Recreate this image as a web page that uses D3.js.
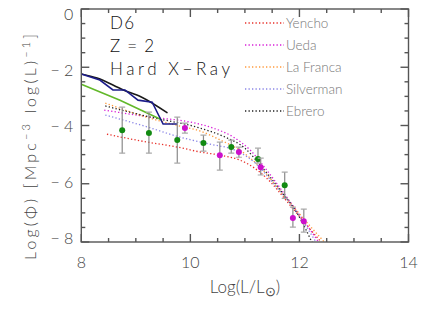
<!DOCTYPE html>
<html lang="en">
<head>
<meta charset="utf-8">
<title>D6 Z=2 Hard X-Ray</title>
<script src="https://cdn.jsdelivr.net/npm/d3@7/dist/d3.min.js"></script>
<style>
  body { margin: 0; background: #fff; }
  svg { display: block; font-family: Lato, "DejaVu Sans", sans-serif; }
</style>
</head>
<body>
<div id="chart"></div>
<script>
// ---------- data ----------
var xTicks = [8, 10, 12, 14];
var yTicks = [-8, -6, -4, -2, 0];

// solid lines
var blackSolid = [[8.0, -2.23], [8.29, -2.37], [8.77, -2.78], [9.1, -3.02], [9.58, -3.57]];
var blueSolid  = [[8.0, -2.23], [8.34, -2.44], [8.58, -2.78], [8.80, -2.78], [9.04, -3.13],
                  [9.30, -3.20], [9.40, -3.58], [9.50, -3.95], [9.76, -3.95]];
var greenSolid = [[8.0, -2.58], [8.71, -3.13], [9.48, -3.81]];

// model curves (dotted)
var yencho    = [[8.47, -4.30], [9.21, -4.57], [9.76, -4.74], [10.18, -4.91], [10.55, -5.02],
                 [10.91, -5.19], [11.15, -5.43], [11.40, -5.81], [11.83, -6.74], [12.1, -7.35], [12.42, -8.05]];
var ueda      = [[8.42, -3.47], [9.26, -3.71], [9.99, -3.88], [10.42, -4.09], [10.79, -4.40],
                 [11.10, -4.85], [11.37, -5.46], [11.74, -6.39], [12.10, -7.32], [12.37, -8.05]];
var laFranca  = [[8.44, -3.23], [9.26, -3.75], [9.81, -4.02], [10.18, -4.19], [10.55, -4.50],
                 [10.91, -4.85], [11.28, -5.43], [11.74, -6.46], [12.10, -7.25], [12.48, -8.05]];
var silverman = [[8.44, -3.64], [9.21, -4.05], [9.81, -4.40], [10.36, -4.64], [10.82, -4.85],
                 [11.19, -5.29], [11.55, -6.05], [11.95, -6.98], [12.32, -8.05]];
var ebrero    = [[8.44, -3.33], [9.26, -3.71], [10.18, -4.09], [10.64, -4.40], [11.00, -4.78],
                 [11.28, -5.36], [11.65, -6.22], [11.98, -7.08], [12.24, -8.05]];

// data points: [x, y, top, bottom]
var greenPts = [[8.75, -4.16, -3.37, -4.95], [9.24, -4.26, -3.54, -4.95], [9.76, -4.50, -3.71, -5.29],
                [10.24, -4.60, -4.33, -4.88], [10.75, -4.74, -4.50, -4.95], [11.24, -5.15, -4.78, -5.29],
                [11.73, -6.05, -5.60, -6.50]];
var magentaPts = [[9.90, -4.09, -3.92, -4.26], [10.54, -5.02, -4.57, -5.53], [10.89, -4.91, -4.74, -5.09],
                  [11.29, -5.43, -5.12, -5.70], [11.88, -7.18, -6.80, -7.49], [12.08, -7.29, -6.87, -7.66]];

var legendNames  = ["Yencho", "Ueda", "La Franca", "Silverman", "Ebrero"];
var legendColors = ["#e8302a", "#d81ed8", "#ff9a3c", "#8a86e6", "#222222"];
var models = [yencho, ueda, laFranca, silverman, ebrero];

// ---------- setup ----------
var W = 436, H = 312;
var x = d3.scaleLinear().domain([8, 14]).range([81.3, 408.5]);
var y = d3.scaleLinear().domain([-8, 0]).range([242, 9]);
var axisCol = "#555", textCol = "#444";

var svg = d3.select("#chart").append("svg")
    .attr("width", W).attr("height", H);

svg.append("defs").append("clipPath").attr("id", "plotclip")
  .append("rect")
    .attr("x", x(8)).attr("y", y(0))
    .attr("width", x(14) - x(8)).attr("height", y(-8) - y(0));

var plot = svg.append("g").attr("clip-path", "url(#plotclip)");

var line = d3.line()
    .x(d => x(d[0]))
    .y(d => y(d[1]))
    .curve(d3.curveMonotoneX);

// model curves
models.forEach(function(m, i) {
  plot.append("path")
      .attr("d", line(m))
      .attr("fill", "none")
      .attr("stroke", legendColors[i])
      .attr("stroke-width", 1.3)
      .attr("stroke-dasharray", "1.3,2.2");
});

// solid lines
var straight = d3.line().x(d => x(d[0])).y(d => y(d[1]));
plot.append("path").attr("d", straight(greenSolid))
    .attr("fill", "none").attr("stroke", "#62b82a").attr("stroke-width", 1.6);
plot.append("path").attr("d", line(blackSolid))
    .attr("fill", "none").attr("stroke", "#1a1a1a").attr("stroke-width", 1.6);
plot.append("path").attr("d", straight(blueSolid))
    .attr("fill", "none").attr("stroke", "#1c1c8a").attr("stroke-width", 1.6);

// error bars + points
function drawPoints(pts, col) {
  var g = plot.append("g");
  pts.forEach(function(p) {
    g.append("line")
        .attr("x1", x(p[0])).attr("x2", x(p[0]))
        .attr("y1", y(p[2])).attr("y2", y(p[3]))
        .attr("stroke", "#8a8a8a").attr("stroke-width", 1.2);
    [p[2], p[3]].forEach(function(v) {
      g.append("line")
          .attr("x1", x(p[0]) - 3).attr("x2", x(p[0]) + 3)
          .attr("y1", y(v)).attr("y2", y(v))
          .attr("stroke", "#aaa").attr("stroke-width", 1.2);
    });
    g.append("circle")
        .attr("cx", x(p[0])).attr("cy", y(p[1])).attr("r", 3)
        .attr("fill", col);
  });
}
drawPoints(greenPts, "#128a12");
drawPoints(magentaPts, "#cc10cc");

// ---------- frame & ticks ----------
var frame = svg.append("g").attr("stroke", axisCol).attr("stroke-width", 1.4);
frame.append("rect")
    .attr("x", x(8)).attr("y", y(0))
    .attr("width", x(14) - x(8)).attr("height", y(-8) - y(0))
    .attr("fill", "none");

d3.range(8, 14.01, 0.5).forEach(function(v) {
  var len = (v % 2 === 0) ? 8 : 4;
  frame.append("line").attr("x1", x(v)).attr("x2", x(v))
      .attr("y1", y(-8)).attr("y2", y(-8) - len);
  frame.append("line").attr("x1", x(v)).attr("x2", x(v))
      .attr("y1", y(0)).attr("y2", y(0) + len);
});
d3.range(-8, 0.01, 0.5).forEach(function(v) {
  var len = (v % 2 === 0) ? 8 : 4;
  frame.append("line").attr("x1", x(8)).attr("x2", x(8) + len)
      .attr("y1", y(v)).attr("y2", y(v));
  frame.append("line").attr("x1", x(14)).attr("x2", x(14) - len)
      .attr("y1", y(v)).attr("y2", y(v));
});

// tick labels
svg.append("g").selectAll("text").data(xTicks).join("text")
    .attr("x", d => x(d)).attr("y", 268)
    .attr("text-anchor", "middle")
    .attr("font-size", 16).attr("font-weight", 300)
    .attr("fill", textCol)
    .text(d => d);

svg.append("g").selectAll("text").data(yTicks).join("text")
    .attr("x", x(8) - 8).attr("y", d => 14 + (y(d) - 9) * 224 / 233)
    .attr("dy", "0.35em")
    .attr("text-anchor", "end")
    .attr("font-size", 16).attr("font-weight", 300)
    .attr("fill", textCol)
    .text(d => d === 0 ? "0" : "\u2212 " + Math.abs(d));

// axis titles
var xl = svg.append("text")
    .attr("x", (x(8) + x(14)) / 2).attr("y", 293)
    .attr("text-anchor", "middle")
    .attr("font-size", 17).attr("font-weight", 300)
    .attr("fill", textCol);
xl.append("tspan").text("Log(L/L");
xl.append("tspan").attr("dy", 3).attr("font-size", 13).text("\u2299");
xl.append("tspan").attr("dy", -3).text(")");

var yl = svg.append("text")
    .attr("transform", "translate(36," + 147 + ") rotate(-90)")
    .attr("text-anchor", "middle")
    .attr("font-size", 16).attr("font-weight", 300)
    .attr("fill", textCol)
    .attr("textLength", 226).attr("lengthAdjust", "spacing");
yl.append("tspan").text("Log(\u03a6)  [Mpc");
yl.append("tspan").attr("dy", -6).attr("font-size", 11).text("\u22123");
yl.append("tspan").attr("dy", 6).text("  log(L)");
yl.append("tspan").attr("dy", -6).attr("font-size", 11).text("\u22121");
yl.append("tspan").attr("dy", 6).text("]");

// title text
var titles = ["D6", "Z=2", "Hard X\u2212Ray"];
var titleLen = [24, 44, 120];
svg.append("g").selectAll("text").data(titles).join("text")
    .attr("x", 110).attr("y", (d, i) => 29 + i * 23)
    .attr("font-size", 17).attr("font-weight", 300)
    .attr("fill", "#111")
    .attr("textLength", (d, i) => titleLen[i]).attr("lengthAdjust", "spacing")
    .text(d => d);

// legend
var leg = svg.append("g");
legendNames.forEach(function(n, i) {
  var ly = 23 + i * 22;
  leg.append("line")
      .attr("x1", 245).attr("x2", 284)
      .attr("y1", ly).attr("y2", ly)
      .attr("stroke", legendColors[i]).attr("stroke-width", 1.3)
      .attr("stroke-dasharray", "1.3,2.2");
  leg.append("text")
      .attr("x", 286).attr("y", ly).attr("dy", "0.35em")
      .attr("font-size", 13.5).attr("font-weight", 300)
      .attr("fill", "#777")
      .text(n);
});
</script>
</body>
</html>
